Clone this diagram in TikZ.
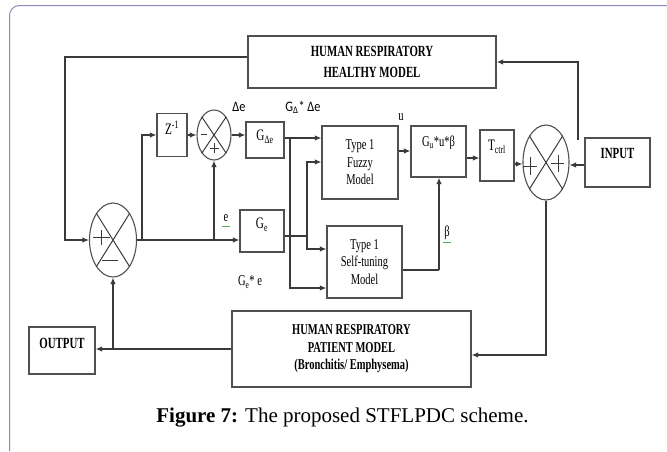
\documentclass[tikz,border=0pt]{standalone}
\usepackage{fontspec}
\setmainfont{Liberation Serif}
\newfontfamily\cond[FakeStretch=0.7]{Liberation Serif}
\newfontfamily\condsans[FakeStretch=0.85]{Carlito}
\usetikzlibrary{arrows.meta,shapes.geometric}
\definecolor{ln}{HTML}{3A3A3A}
\definecolor{bx}{HTML}{505050}
\definecolor{fr}{HTML}{8C8AB8}
\definecolor{sq}{HTML}{4CAF50}
\tikzset{
 blk/.style={draw=bx, line width=1.3pt, inner sep=0pt},
 txt/.style={inner sep=0pt, font=\cond\fontsize{15}{17.5}\selectfont, align=center},
 ttl/.style={inner sep=0pt, font=\cond\bfseries\fontsize{15.5}{21}\selectfont, align=center},
 sumj/.style={ellipse, draw=bx, line width=1.1pt, inner sep=0pt},
 wire/.style={draw=ln, line width=1.2pt},
 arr/.style={wire, -{Latex[length=6.5pt,width=5.5pt]}},
 sgn/.style={draw=ln, line width=1pt},
 lbl/.style={inner sep=0pt, font=\cond\fontsize{15}{16}\selectfont},
 slbl/.style={inner sep=0pt, font=\condsans\fontsize{14.5}{16}\selectfont},
}
\begin{document}
\begin{tikzpicture}[x=1pt,y=-1pt]
\useasboundingbox (0,0) rectangle (667,451);
\draw[draw=fr, line width=1pt, rounded corners=10pt] (9.5,451) -- (9.5,5.5) -- (667,5.5);

% blocks
\node[blk, ttl, minimum width=248, minimum height=52] (hm) at (372,62) {HUMAN RESPIRATORY\\HEALTHY MODEL};
\node[blk, minimum width=30, minimum height=43] (z) at (172,135) {};
\node[txt, font=\cond\fontsize{16}{17.5}\selectfont] (zt) at (172,128) {Z\textsuperscript{-1}};
\node[sumj, minimum width=34, minimum height=50] (ss) at (214,135) {};
\node[blk, minimum width=38, minimum height=36] (gde) at (265,140) {};
\node[txt, font=\cond\fontsize{16}{17.5}\selectfont] (gdet) at (265,137) {G\textsubscript{Δe}};
\node[blk, minimum width=44, minimum height=42] (ge) at (262,231) {};
\node[txt, font=\cond\fontsize{16}{17.5}\selectfont] (get) at (262,225) {G\textsubscript{e}};
\node[sumj, minimum width=47, minimum height=74] (ms) at (113,240) {};
\node[blk, txt, minimum width=76, minimum height=73] (fz) at (360,162.5) {Type 1\\Fuzzy\\Model};
\node[blk, txt, minimum width=75, minimum height=72] (st) at (364.5,262) {Type 1\\Self-tuning\\Model};
\node[blk, minimum width=55, minimum height=51] (gu) at (438.5,151.5) {};
\node[txt] (gut) at (438.5,143) {G\textsubscript{u}*u*β};
\node[blk, minimum width=34, minimum height=51] (tc) at (497,155.5) {};
\node[txt, font=\cond\fontsize{16}{17.5}\selectfont] (tct) at (497,147) {T\textsubscript{ctrl}};
\node[sumj, minimum width=46, minimum height=75] (rs) at (546,162.5) {};
\node[blk, minimum width=65, minimum height=49] (in) at (617.5,162.5) {};
\node[ttl] (int) at (617.5,153) {INPUT};
\node[blk, ttl, font=\cond\bfseries\fontsize{15}{17.5}\selectfont, minimum width=239, minimum height=76] (pm) at (351.5,349) {HUMAN RESPIRATORY\\PATIENT MODEL\\(Bronchitis/ Emphysema)};
\node[blk, minimum width=66, minimum height=47] (out) at (62,350.5) {};
\node[ttl] (outt) at (62,343) {OUTPUT};

% summing junction marks
\draw[sgn] (ms.58) -- (ms.238) (ms.122) -- (ms.302);
\draw[sgn] (ss.56) -- (ss.236) (ss.124) -- (ss.304);
\draw[sgn] (rs.58) -- (rs.238) (rs.122) -- (rs.302);
\draw[sgn] (93,237) -- (110,237) (101,230) -- (101,245);
\draw[sgn] (102,260) -- (118,260);
\draw[sgn] (201,134) -- (207,134);
\draw[sgn] (210,148) -- (219,148) (214.5,143) -- (214.5,153);
\draw[sgn] (523,166) -- (537,166) (530,157) -- (530,175);
\draw[sgn] (551,163) -- (564,163) (558,155) -- (558,172);

% connectors
\coordinate (c1) at (65,57);
\draw[arr] ([yshift=5pt]hm.west) -- (c1) |- (ms.west);
\coordinate (tapIn) at (578,140);
\draw[arr] (tapIn) |- (hm.east);
\draw[arr] (ms.east) -- (ms.east -| ge.west);
\coordinate (b1) at (142,240);
\draw[arr] (b1) |- (z.west);
\draw[arr] (z.east) -- (ss.west);
\coordinate (b2) at (214,240);
\draw[arr] (b2) -- (ss.south);
\draw[arr] (ss.east) -- (ss.east -| gde.west);
\draw[arr] ([yshift=2pt]gde.east) -- ([yshift=2pt]gde.east -| fz.west);
\coordinate (b3) at (290,138);
\draw[arr] (b3) |- ([yshift=-26pt]st.west);
\coordinate (c3) at (307,236);
\draw[wire] ([yshift=-5pt]ge.east) -- (c3);
\draw[arr] (c3) |- ([yshift=0.5pt]fz.west);
\draw[arr] (c3) |- ([yshift=13pt]st.west);
\draw[arr] ([yshift=11.5pt]fz.east) -- ([yshift=11.5pt]fz.east -| gu.west);
\draw[arr] ([yshift=-6.5pt]gu.east) -- ([yshift=-6.5pt]gu.east -| tc.west);
\draw[arr] ([yshift=-8.5pt]tc.east) -- ([yshift=-8.5pt]tc.east -| rs.west);
\draw[arr] ([yshift=-2.5pt]in.west) -- ([yshift=-2.5pt]in.west -| rs.east);
\coordinate (c4) at (439,270);
\draw[wire] ([yshift=-8pt]st.east) -- (c4);
\draw[arr] (c4) -- (c4 |- gu.south);
\draw[arr] (rs.south) |- ([yshift=-6pt]pm.east);
\draw[arr] (pm.west) -- (pm.west -| out.east);
\coordinate (b4) at (113,349);
\draw[arr] (b4) -- (ms.south);

% labels
\node[slbl] (lde) at (239,107) {Δe};
\node[slbl] (lgde) at (303,107) {G\textsubscript{Δ}* Δe};
\node[lbl] (lu) at (401,117) {u};
\node[lbl] (le) at (226,218) {e};
\draw[sq, line width=0.8pt] (222,226) -- (230,226);
\node[lbl] (lb) at (447,233) {β};
\draw[sq, line width=0.8pt] (443,242) -- (451,242);
\node[lbl] (lge) at (250,282) {G\textsubscript{e}* e};

\node[inner sep=0pt, anchor=base, font=\fontsize{21}{25}\selectfont] (cap) at (342.5,422) {\textbf{Figure 7:} The proposed STFLPDC scheme.};
\end{tikzpicture}
\end{document}
